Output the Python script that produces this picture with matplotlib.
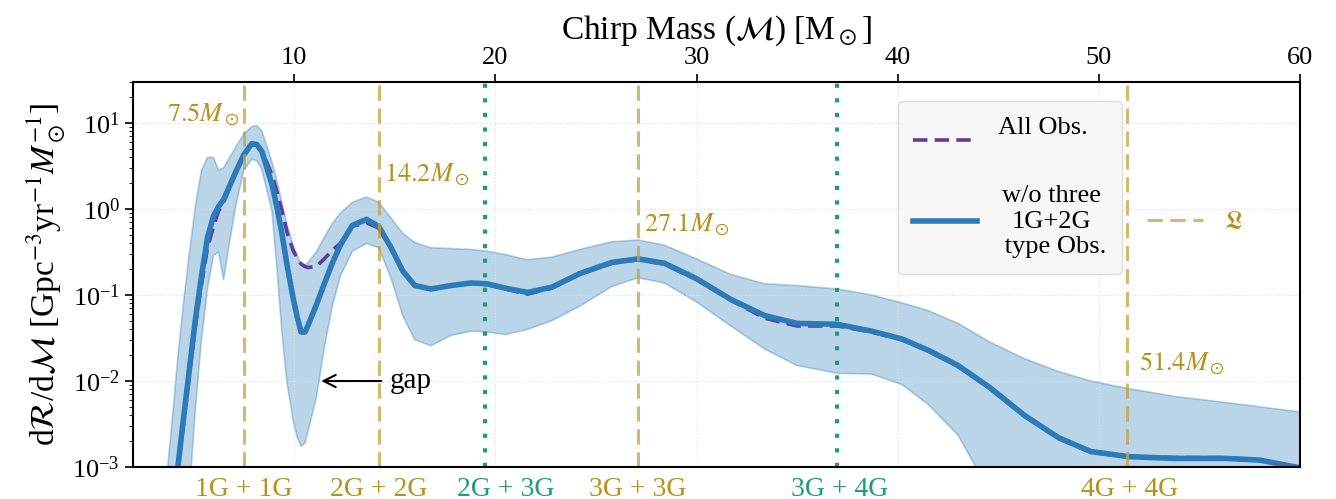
import numpy as np
import matplotlib.pyplot as plt
import matplotlib.transforms as mtransforms

plt.rcParams['font.family'] = 'Liberation Serif'
plt.rcParams['mathtext.fontset'] = 'stix'

# chirp mass grid (M_sun) and log10 of dR/dM
mass = [3.7, 4.0, 4.2, 4.5, 4.8, 5.1, 5.4, 5.7, 6.0, 6.25, 6.5, 6.8, 7.1, 7.5, 7.9, 8.15,
        8.4, 8.9, 9.15, 9.4, 9.65, 9.95, 10.15, 10.35, 10.55, 10.7, 11.1, 11.5, 11.9, 12.3,
        12.9, 13.6, 14.2, 14.8, 15.4, 16.0, 16.8, 17.8, 18.8, 19.6, 20.5, 21.6, 22.8, 24.2,
        25.8, 27.1, 28.4, 30.0, 31.7, 33.4, 35.0, 37.0, 38.7, 40.2, 41.5, 43.0, 44.6,
        46.3, 48.0, 49.6, 51.5, 53.8, 56.3, 58.0, 60.0]

log_wo = [-4.0, -3.45, -3.05, -2.45, -1.86, -1.28, -0.78, -0.33, -0.08, 0.03, 0.11, 0.27,
          0.43, 0.63, 0.76, 0.75, 0.67, 0.29, 0.02, -0.29, -0.65, -1.03, -1.25, -1.43, -1.43,
          -1.35, -1.12, -0.87, -0.63, -0.42, -0.19, -0.12, -0.20, -0.44, -0.72, -0.89, -0.93,
          -0.89, -0.86, -0.87, -0.92, -0.97, -0.91, -0.75, -0.62, -0.58, -0.63, -0.81, -1.05,
          -1.24, -1.33, -1.34, -1.42, -1.51, -1.64, -1.82, -2.08, -2.40, -2.66, -2.82,
          -2.88, -2.90, -2.90, -2.92, -3.01]

log_all = [-4.0, -3.45, -3.08, -2.50, -1.92, -1.35, -0.88, -0.45, -0.20, -0.02, 0.08, 0.25,
           0.42, 0.62, 0.75, 0.74, 0.68, 0.40, 0.20, -0.02, -0.27, -0.48, -0.57, -0.64, -0.67,
           -0.68, -0.67, -0.58, -0.48, -0.40, -0.20, -0.16, -0.22, -0.45, -0.72, -0.89, -0.93,
           -0.89, -0.86, -0.88, -0.93, -0.99, -0.92, -0.76, -0.63, -0.59, -0.64, -0.82, -1.06,
           -1.27, -1.36, -1.36, -1.43, -1.52, -1.65, -1.83, -2.09, -2.41, -2.67, -2.83,
           -2.88, -2.89, -2.89, -2.92, -3.01]

log_up = [-3.05, -2.31, -1.78, -1.10, -0.51, 0.04, 0.45, 0.60, 0.60, 0.45, 0.48, 0.60,
          0.72, 0.87, 0.96, 0.97, 0.91, 0.55, 0.33, 0.07, -0.18, -0.42, -0.54, -0.64, -0.65,
          -0.62, -0.50, -0.33, -0.17, -0.05, 0.08, 0.14, 0.08, -0.10, -0.28, -0.39, -0.45,
          -0.46, -0.47, -0.49, -0.53, -0.59, -0.56, -0.47, -0.38, -0.36, -0.42, -0.58, -0.76,
          -0.87, -0.89, -0.93, -1.00, -1.09, -1.18, -1.33, -1.55, -1.74, -1.89, -2.00,
          -2.09, -2.18, -2.25, -2.30, -2.36]

log_low = [-6.0, -6.0, -6.0, -5.0, -3.3, -2.32, -1.52, -0.92, -0.54, -0.50, -0.82, -0.38,
           0.03, 0.45, 0.58, 0.56, 0.46, -0.02, -0.69, -1.45, -2.02, -2.45, -2.65, -2.76, -2.72,
           -2.58, -2.20, -1.62, -1.13, -0.78, -0.49, -0.40, -0.45, -0.79, -1.24, -1.52, -1.59,
           -1.47, -1.42, -1.43, -1.46, -1.40, -1.30, -1.13, -0.90, -0.80, -0.86, -1.08, -1.36,
           -1.63, -1.82, -1.91, -1.92, -2.04, -2.27, -2.63, -3.3, -4.0, -5.0, -5.0,
           -5.0, -5.0, -5.0, -5.0, -5.0]

# generation thresholds
gold_pos = [7.5, 14.2, 27.1, 51.4]
gold_txt = [r'$7.5M_\odot$', r'$14.2M_\odot$', r'$27.1M_\odot$', r'$51.4M_\odot$']
gold_txt_x = [7.3, 14.45, 27.4, 52.0]
gold_txt_y = [12.5, 2.5, 0.65, 0.016]
green_pos = [19.5, 37.0]
pair_pos = [7.5, 14.2, 20.5, 27.1, 37.1, 51.5]
pair_lab = ['1G + 1G', '2G + 2G', '2G + 3G', '3G + 3G', '3G + 4G', '4G + 4G']

blue = '#2b7bba'
purple = '#5e3c99'
gold = '#c9a03a'
gold_t = '#b8901c'
green = '#1b9e77'
pair_col = [gold_t, gold_t, green, gold_t, green, gold_t]

m = np.array(mass)
fig = plt.figure(figsize=(13.36, 4.99), dpi=100)
ax = fig.add_axes([0.0996, 0.0641, 0.8736, 0.7716])

ax.fill_between(m, 10**np.array(log_low), 10**np.array(log_up), color=blue, alpha=0.32, lw=0)
ax.plot(m, 10**np.array(log_up), color=blue, alpha=0.35, lw=1.2)
ax.plot(m, 10**np.array(log_low), color=blue, alpha=0.35, lw=1.2)
l_all, = ax.plot(m, 10**np.array(log_all), color=purple, lw=2.6, ls=(0, (4, 2)), label='All Obs.\n ')
l_wo, = ax.plot(m, 10**np.array(log_wo), color=blue, lw=4, label='w/o three\n1G+2G\n type Obs.')

for i, x in enumerate(gold_pos):
    lg = ax.axvline(x, color=gold, alpha=0.75, lw=2.2, ls=(0, (5, 2.5)), label=r'$\mathfrak{L}$')
    ha = 'right' if i == 0 else 'left'
    ax.text(gold_txt_x[i], gold_txt_y[i], gold_txt[i], color=gold_t, fontsize=19, ha=ha, va='center')
for x in green_pos:
    ax.axvline(x, color=green, lw=3, ls=(0, (1, 2.5)))

trans = mtransforms.blended_transform_factory(ax.transData, ax.transAxes)
for x, lab, c in zip(pair_pos, pair_lab, pair_col):
    ax.text(x, -0.025, lab, transform=trans, color=c, fontsize=20, ha='center', va='top')

ax.annotate('gap', xy=(11.35, 1e-2), xytext=(14.75, 1e-2), fontsize=21, va='center', ha='left',
            arrowprops=dict(arrowstyle='->', color='k', lw=1.5, mutation_scale=22, shrinkA=4, shrinkB=0))

ax.set_yscale('log')
ax.set_xlim(2, 60)
ax.set_ylim(1e-3, 30)
ax.xaxis.tick_top()
ax.xaxis.set_label_position('top')
ax.set_xticks([10, 20, 30, 40, 50, 60])
ax.tick_params(axis='both', which='major', labelsize=19, length=6, width=1.2)
ax.tick_params(axis='y', which='minor', length=3)
ax.set_xlabel(r'Chirp Mass ($\mathcal{M}$) [M$_\odot$]', fontsize=24, labelpad=6)
ax.set_ylabel(r'd$\mathcal{R}$/d$\mathcal{M}$ [Gpc$^{-3}$yr$^{-1}M_\odot^{-1}$]', fontsize=24)
ax.grid(True, which='major', ls=':', color='#dddddd', lw=0.8)
for s in ax.spines.values():
    s.set_linewidth(1.5)

leg1 = ax.legend(handles=[l_all, l_wo], loc='upper left', bbox_to_anchor=(0.655, 0.951),
                 borderaxespad=0, fontsize=19, handlelength=2.4, labelspacing=0.8, borderpad=0.6,
                 fancybox=True, facecolor='#f7f7f7', edgecolor='#dddddd', framealpha=1)
for t in leg1.get_texts():
    t.set_multialignment('center')
ax.add_artist(leg1)
leg2 = ax.legend(handles=[lg], loc='center left', bbox_to_anchor=(0.86, 0.636), fontsize=19,
                 borderaxespad=0, frameon=False, handlelength=2.1)
leg2.get_texts()[0].set_color(gold_t)

fig.savefig('out.png', dpi=100)
